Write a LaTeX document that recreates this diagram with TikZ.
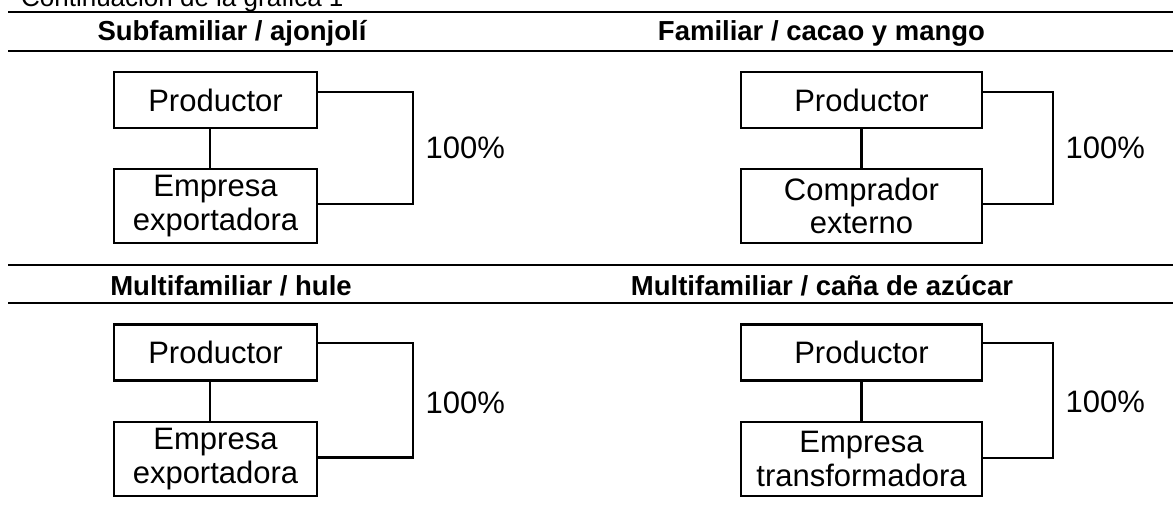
\documentclass[tikz,border=0pt]{standalone}
\usepackage{fontspec}
\setmainfont{Liberation Sans}
\usetikzlibrary{positioning}
\tikzset{
  caja/.style={draw, line width=2.3pt, inner sep=0pt, align=center,
    font=\fontsize{31}{33.5}\selectfont},
  corta/.style={caja, minimum height=56pt},
  larga/.style={caja, minimum height=74pt},
  titulo/.style={anchor=base, inner sep=0pt, font=\fontsize{27.5}{30}\selectfont\bfseries},
  pct/.style={inner sep=0pt, font=\fontsize{31}{33.5}\selectfont},
  regla/.style={line width=2.7pt},
}
\begin{document}
\begin{tikzpicture}[x=1pt, y=-1pt, line width=2.3pt]
  \useasboundingbox (0,0) rectangle (1173,525);
  \node[anchor=base west, inner sep=0pt, font=\fontsize{26}{28}\selectfont] (cont) at (20,6.5) {Continuación de la gráfica 1};
  \draw[regla] (8,12) -- (1173,12);
  \draw[regla] (8,51) -- (1173,51);
  \draw[regla] (8,265) -- (1173,265);
  \draw[regla] (8,303) -- (1173,303);
  \node[titulo] (t1) at (232,40) {Subfamiliar / ajonjolí};
  \node[titulo] (t2) at (821.5,40) {Familiar / cacao y mango};
  \node[titulo] (t3) at (231,295) {Multifamiliar / hule};
  \node[titulo] (t4) at (822,295) {Multifamiliar / caña de azúcar};

  \node[corta, minimum width=203pt] (p1) at (215.5,100) {Productor};
  \node[larga, minimum width=203pt] (e1) at (215.5,206) {Empresa\\exportadora};
  \node[corta, minimum width=241pt] (p2) at (861.5,100) {Productor};
  \node[larga, minimum width=241pt] (e2) at (861.5,206) {Comprador\\externo};
  \node[corta, minimum width=203pt] (p3) at (215.5,352.5) {Productor};
  \node[larga, minimum width=203pt] (e3) at (215.5,459) {Empresa\\exportadora};
  \node[corta, minimum width=241pt] (p4) at (861.5,352.5) {Productor};
  \node[larga, minimum width=241pt] (e4) at (861.5,459) {Empresa\\transformadora};

  \coordinate (r1) at (413,148);
  \coordinate (r2) at (1053,148);
  \coordinate (r3) at (413,400);
  \coordinate (r4) at (1053,400);
  \node[pct, right=11.5pt of r1] (c1) {100\%};
  \node[pct, right=11.5pt of r2] (c2) {100\%};
  \node[pct, right=11.5pt of r3, yshift=-3pt] (c3) {100\%};
  \node[pct, right=11.5pt of r4, yshift=-2pt] (c4) {100\%};

  \begin{scope}[-]
    \draw ([xshift=-5.5pt]p1.south) -- ([xshift=-5.5pt]e1.north);
    \draw (p2) -- (e2);
    \draw ([xshift=-5.5pt]p3.south) -- ([xshift=-5.5pt]e3.north);
    \draw (p4) -- (e4);
    \draw ([yshift=8pt]p1.east) -| (r1) |- ([yshift=2pt]e1.east);
    \draw ([yshift=8pt]p2.east) -| (r2) |- ([yshift=2pt]e2.east);
    \draw ([yshift=9.5pt]p3.east) -| (r3) |- ([yshift=1.5pt]e3.east);
    \draw ([yshift=9.5pt]p4.east) -| (r4) |- ([yshift=1pt]e4.east);
  \end{scope}
\end{tikzpicture}
\end{document}
